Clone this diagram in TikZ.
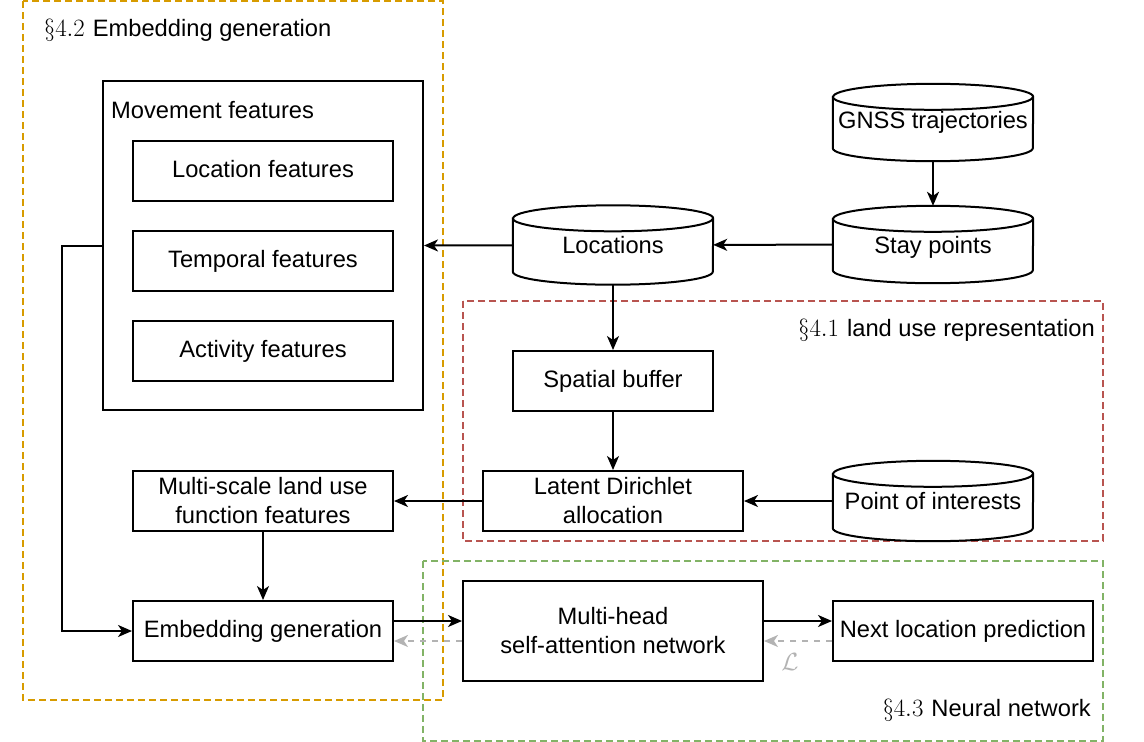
\documentclass[tikz,border=0pt]{standalone}
\usepackage{fontspec}
\setmainfont{Liberation Sans}
\usetikzlibrary{arrows.meta,calc}
\definecolor{orng}{HTML}{D79B00}
\definecolor{redd}{HTML}{B85450}
\definecolor{grn}{HTML}{82B366}
\definecolor{lgray}{HTML}{B3B3B3}
\newcommand\cylout[1]{%
  \draw[line width=2pt] ($(#1.north west)+(0,13)$) -- ($(#1.south west)+(0,-13)$)
    arc[start angle=180,end angle=360,x radius=100pt,y radius=13pt]
    -- ($(#1.north east)+(0,13)$)
    arc[start angle=0,end angle=180,x radius=100pt,y radius=13pt] -- cycle;
  \draw[line width=2pt] ($(#1.north west)+(0,13)$)
    arc[start angle=180,end angle=360,x radius=100pt,y radius=13pt];
}
\newcommand\secnum[1]{{\fontsize{26}{30}\selectfont$\S#1$}\hspace{8pt}}
\begin{document}
\begin{tikzpicture}[x=1pt,y=-1pt,
  font=\fontsize{23.7}{29}\selectfont,
  box/.style={draw,line width=2pt,minimum width=260pt,minimum height=60pt,align=center,inner sep=0pt},
  one/.style={text height=17pt,text depth=5pt},
  cyl/.style={minimum width=200pt,inner sep=0pt,align=center,text height=17pt,text depth=0pt},
  arr/.style={-{Stealth[length=14pt,width=12pt,inset=4pt]},line width=2pt},
  back/.style={arr,lgray,dash pattern=on 6pt off 6pt},
  grp/.style={line width=1.5pt,dash pattern=on 7pt off 4pt}]
\useasboundingbox (0,0) rectangle (1144,742);
% groups
\draw[grp,orng] (23,1) rectangle (443,700);
\draw[grp,redd] (463,301) rectangle (1103,541);
\draw[grp,grn] (423,561) rectangle (1103,741);
\node[anchor=west,inner sep=0pt] (l42) at (44,30) {\secnum{4.2}Embedding generation};
\node[anchor=east,inner sep=0pt] (l41) at (1095,330) {\secnum{4.1}land use representation};
\node[anchor=east,inner sep=0pt] (l43) at (1091,710) {\secnum{4.3}Neural network};
% left column
\node[box,minimum width=320pt,minimum height=329pt] (mov) at (263,245.5) {};
\node[anchor=west,inner sep=0pt] (movt) at (111,110) {Movement features};
\node[box,one] (loc) at (263,171) {Location features};
\node[box,one] (temp) at (263,261) {Temporal features};
\node[box,one] (act) at (263,351) {Activity features};
\node[box] (ms) at (263,501) {Multi-scale land use\\function features};
\node[box,one] (emb) at (263,631) {Embedding generation};
% cylinders
\node[cyl,minimum height=77pt,text depth=5pt] (gnss) at (933,122.5) {GNSS trajectories};
\node[cyl,minimum height=77pt] (stay) at (933,244.5) {Stay points};
\node[cyl,minimum height=79pt] (locs) at (613,245) {Locations};
\node[cyl,minimum height=80pt] (poi) at (933,501) {Point of interests};
\cylout{gnss}\cylout{stay}\cylout{locs}\cylout{poi}
% middle
\node[box,one,minimum width=200pt] (sb) at (613,381) {Spatial buffer};
\node[box] (lda) at (613,501) {Latent Dirichlet\\allocation};
\node[box,minimum width=300pt,minimum height=100pt] (mh) at (613,631) {Multi-head\\self-attention network};
\node[box,one] (nlp) at (963,631) {Next location prediction};
% connectors
\draw[arr] (gnss) -- (stay);
\draw[arr] (stay) -- (locs);
\draw[arr] (locs) -- (mov.east);
\draw[arr] (locs) -- (sb);
\draw[arr] (sb) -- (lda);
\draw[arr] (poi) -- (lda);
\draw[arr] (lda) -- (ms);
\draw[arr] (ms) -- (emb);
\draw[arr] (mov.west) -- ++(-40,0) |- (emb.west);
\draw[arr] ([yshift=10pt]emb.east) -- ([yshift=10pt]mh.west);
\draw[arr] ([yshift=10pt]mh.east) -- ([yshift=10pt]nlp.west);
\draw[back] ([yshift=-10pt]nlp.west) -- ([yshift=-10pt]mh.east);
\draw[back] ([yshift=-10pt]mh.west) -- ([yshift=-10pt]emb.east);
\node[text=lgray,inner sep=0pt] (lab) at (790,662) {\fontsize{27}{30}\selectfont$\mathcal{L}$};
\end{tikzpicture}
\end{document}
